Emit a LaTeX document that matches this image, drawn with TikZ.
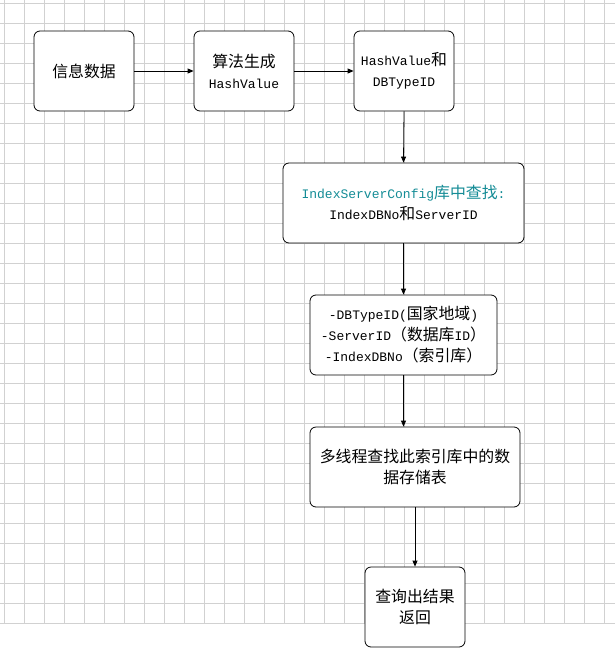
\documentclass[tikz,border=0pt]{standalone}
\usepackage{fontspec}
\setmainfont{Liberation Mono}
\newfontfamily\cjk[Scale=1.22]{Noto Sans CJK SC}
\usetikzlibrary{arrows.meta}
\definecolor{tealtxt}{RGB}{20,140,150}
\tikzset{
  box/.style={draw,thick,rounded corners=6pt,fill=white,align=center,font=\fontsize{13}{21}\selectfont},
  arr/.style={-{Triangle[length=6pt,width=5pt]},thick},
}
\begin{document}
\begin{tikzpicture}[x=1pt,y=-1pt]
\useasboundingbox (0,0) rectangle (615,656);
\fill[white] (0,0) rectangle (615,656);
\foreach \i in {0,...,30} \draw[black!18,line width=0.5pt] (4.3+20*\i,0) -- (4.3+20*\i,623);
\foreach \j in {0,...,31} \draw[black!18,line width=0.5pt] (0,3.3+20*\j) -- (615,3.3+20*\j);
\node[box,minimum width=100pt,minimum height=80pt] (a) at (84,71) {\cjk 信息数据};
\node[box,minimum width=100pt,minimum height=80pt] (b) at (244,71) {{\cjk 算法生成}\\HashValue};
\node[box,minimum width=100pt,minimum height=80pt] (c) at (404,71) {HashValue{\cjk 和}\\DBTypeID};
\node[box,minimum width=241pt,minimum height=80pt] (d) at (403.5,203) {\textcolor{tealtxt}{IndexServerConfig{\cjk 库中查找}:}\\IndexDBNo{\cjk 和}ServerID};
\node[box,minimum width=187pt,minimum height=80pt,inner sep=1pt] (e) at (403.5,335) {-DBTypeID({\cjk 国家地域})\\-ServerID{\cjk （数据库}ID{\cjk ）}\\-IndexDBNo{\cjk （索引库）}};
\node[box,minimum width=210pt,minimum height=80pt] (f) at (415,467) {{\cjk 多线程查找此索引库中的数}\\{\cjk 据存储表}};
\node[box,minimum width=100pt,minimum height=80pt] (g) at (415,607) {{\cjk 查询出结果}\\{\cjk 返回}};
\draw[arr] (a) -- (b);
\draw[arr] (b) -- (c);
\draw[arr] (c.south) -- (d.north);
\draw[arr] (d.south) -- (d.south|-e.north);
\draw[arr] (e.south) -- (e.south|-f.north);
\draw[arr] (f.south) -- (g.north);
\end{tikzpicture}
\end{document}
